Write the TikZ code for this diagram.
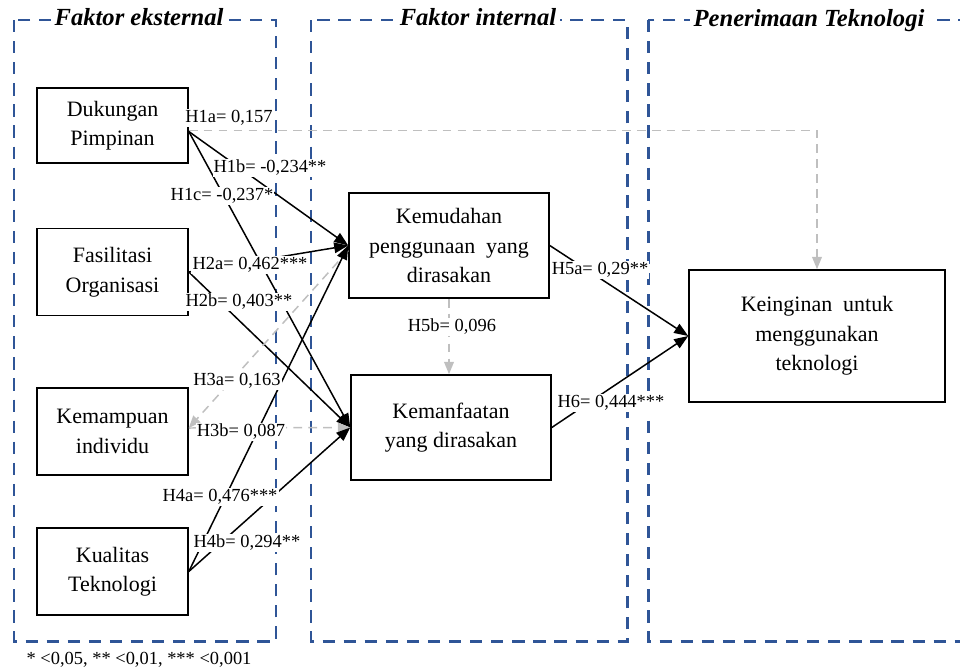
\documentclass[tikz,border=0pt]{standalone}
\usepackage{fontspec}
\setmainfont{Liberation Serif}
\usepackage{xcolor}
\usetikzlibrary{arrows.meta}
\definecolor{kblue}{HTML}{2F5597}
\definecolor{lgray}{HTML}{BFBFBF}

\begin{document}
\begin{tikzpicture}[x=0.02cm,y=-0.02cm,
    box/.style={draw,line width=0.9pt,inner sep=0pt,align=center,font=\fontsize{12.5}{16.8}\selectfont},
    frame/.style={draw=kblue,line width=1.7pt,dash pattern=on 7pt off 5pt},
    title/.style={fill=white,inner sep=2pt,font=\fontsize{14}{16}\selectfont\bfseries\itshape},
    lbl/.style={fill=white,inner sep=0.6pt,font=\fontsize{10.5}{12}\selectfont},
    arr/.style={line width=0.85pt,-{Triangle[length=8pt,width=6pt]}},
    garr/.style={draw=lgray,line width=0.85pt,dash pattern=on 5pt off 3.5pt,-{Triangle[length=7pt,width=5.5pt]}}]
    \useasboundingbox (0,0) rectangle (960,670);

    % Dashed frames with their titles
    \draw[frame] (14,20) rectangle (276,641);
    \draw[frame] (311,20) rectangle (627,641);
    \draw[frame] (648,20) rectangle (1000,641);
    \node[title] (t1) at (139,17) {Faktor eksternal};
    \node[title] (t2) at (478,17) {Faktor internal};
    \node[title] (t3) at (809,21) {Penerimaan Teknologi};

    % Constructs
    \node[box,minimum width=3.02cm,minimum height=1.5cm] (duk) at (112.5,125.5) {Dukungan\\Pimpinan};
    \node[box,minimum width=3.02cm,minimum height=1.74cm] (fas) at (112.5,272) {Fasilitasi\\Organisasi};
    \node[box,minimum width=3.02cm,minimum height=1.74cm] (kem) at (112.5,431.5) {Kemampuan\\individu};
    \node[box,minimum width=3.02cm,minimum height=1.74cm] (kua) at (112.5,571.5) {Kualitas\\Teknologi};
    \node[box,minimum width=4cm,minimum height=2.1cm] (mud) at (449,245.5) {Kemudahan\\penggunaan\ \ yang\\dirasakan};
    \node[box,minimum width=4cm,minimum height=2.1cm] (man) at (451,427.5) {Kemanfaatan\\yang dirasakan};
    \node[box,minimum width=5.12cm,minimum height=2.64cm] (ing) at (817,336) {Keinginan\ \ untuk\\menggunakan\\teknologi};

    % Paths
    \draw[garr] ([yshift=-0.1cm]duk.east) -| (ing.north);
    \draw[arr] ([yshift=-0.12cm]duk.east) -- (mud.west);
    \draw[arr] ([yshift=-0.12cm]duk.east) -- (man.west);
    \draw[arr] (fas.east) -- (mud.west);
    \draw[arr] (fas.east) -- (man.west);
    \draw[garr] ([yshift=-0.1cm]mud.west) -- ([yshift=0.07cm]kem.east);
    \draw[garr] ([yshift=0.07cm]kem.east) -- (man.west);
    \draw[arr] (kua.east) -- (mud.west);
    \draw[arr] (kua.east) -- (man.west);
    \draw[arr] (mud.east) -- (ing.west);
    \draw[garr] (mud.south) -- (mud.south |- man.north);
    \draw[arr] (man.east) -- (ing.west);

    % Coefficients
    \node[lbl] (h1a) at (229,118) {H1a= 0,157};
    \node[lbl] (h1b) at (270,168) {H1b= -0,234**};
    \node[lbl] (h1c) at (222,196) {H1c= -0,237*};
    \node[lbl] (h2a) at (250,265) {H2a= 0,462***};
    \node[lbl] (h2b) at (239,302) {H2b= 0,403**};
    \node[lbl] (h3a) at (237,381) {H3a= 0,163};
    \node[lbl] (h3b) at (241,432) {H3b= 0,087};
    \node[lbl] (h4a) at (220,497) {H4a= 0,476***};
    \node[lbl] (h4b) at (247,543) {H4b= 0,294**};
    \node[lbl] (h5a) at (600,270) {H5a= 0,29**};
    \node[lbl] (h5b) at (452,327) {H5b= 0,096};
    \node[lbl] (h6) at (611,403) {H6= 0,444***};

    \node[font=\fontsize{10.5}{12}\selectfont] (note) at (139,660) {* <0,05, ** <0,01, *** <0,001};
\end{tikzpicture}
\end{document}
